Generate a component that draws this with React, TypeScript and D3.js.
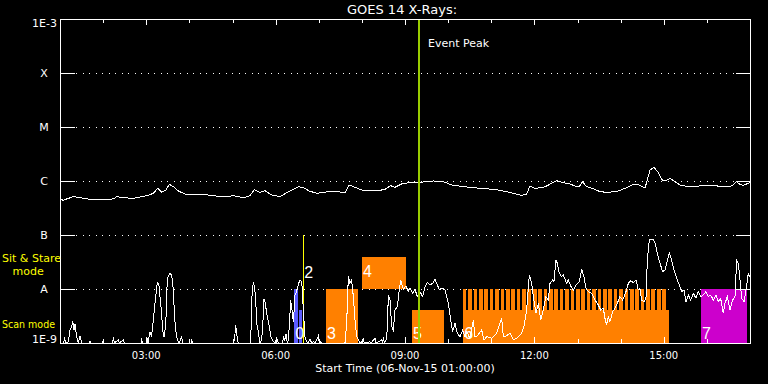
import React from 'react';
import * as d3 from 'd3';

const W = 768;
const H = 384;
const PLOT = { left: 60, right: 750, top: 19, bottom: 343 };

// ---------- axis data ----------
const levelLabels = ['1E-9', 'A', 'B', 'C', 'M', 'X', '1E-3'];
const levelExps = [-9, -8, -7, -6, -5, -4, -3];
const hourTicks = [1, 2, 3, 4, 5, 6, 7, 8, 9, 10, 11, 12, 13, 14, 15, 16, 17];
const labeledHours = [3, 6, 9, 12, 15];
const titleText = 'GOES 14 X-Rays:';
const startLabel = 'Start Time (06-Nov-15 01:00:00)';
const modeLabels = ['Sit & Stare', 'mode', 'Scan mode'];
const eventPeakHour = 9.325;
const eventPeakLabel = 'Event Peak';
const obs2Hour = 6.642;

// ---------- GOES flux (hour, log10 W/m^2) ----------
const goesLog: [number, number][] = [
  [1.0, -6.333], [1.077, -6.358], [1.155, -6.333], [1.309, -6.29], [1.464, -6.309], [1.618, -6.333],
  [1.928, -6.34], [2.237, -6.333], [2.314, -6.29], [2.469, -6.309], [2.7, -6.321], [2.855, -6.296],
  [3.01, -6.272], [3.164, -6.229], [3.265, -6.136], [3.357, -6.21], [3.458, -6.167], [3.535, -6.062],
  [3.628, -6.105], [3.744, -6.185], [3.899, -6.241], [4.092, -6.259], [4.324, -6.247], [4.556, -6.272],
  [4.787, -6.296], [5.019, -6.272], [5.251, -6.309], [5.406, -6.272], [5.506, -6.161], [5.638, -6.21],
  [5.754, -6.179], [5.908, -6.259], [6.101, -6.29], [6.295, -6.198], [6.527, -6.105], [6.643, -6.124],
  [6.782, -6.185], [6.951, -6.228], [7.338, -6.185], [7.415, -6.197], [7.608, -6.216], [7.709, -6.074],
  [7.84, -6.117], [8.034, -6.179], [8.343, -6.185], [8.536, -6.154], [8.667, -6.086], [8.768, -6.117],
  [8.923, -6.055], [9.077, -6.031], [9.309, -6.031], [9.425, -6.018], [9.657, -6.0], [9.889, -6.012],
  [10.082, -6.074], [10.352, -6.105], [10.739, -6.136], [11.048, -6.154], [11.241, -6.179], [11.512, -6.228],
  [11.705, -6.265], [11.821, -6.24], [11.898, -6.092], [12.014, -6.136], [12.207, -6.117], [12.285, -6.092],
  [12.401, -6.043], [12.516, -5.994], [12.671, -6.031], [12.826, -6.055], [12.942, -6.092], [13.042, -6.105],
  [13.112, -6.012], [13.212, -6.105], [13.367, -6.142], [13.521, -6.197], [13.676, -6.21], [13.908, -6.197],
  [14.101, -6.136], [14.256, -6.074], [14.41, -6.068], [14.565, -6.13], [14.619, -5.981], [14.681, -5.796],
  [14.773, -5.747], [14.874, -5.846], [14.974, -5.994], [15.052, -5.994], [15.144, -5.951], [15.26, -6.012],
  [15.376, -6.074], [15.57, -6.105], [15.84, -6.092], [16.149, -6.08], [16.343, -6.105], [16.575, -6.092],
  [16.69, -6.012], [16.752, -6.055], [16.845, -6.08], [16.961, -6.043], [17.0, -6.02],
];

// ---------- lower curve (hour, relative intensity 0..1) ----------
const lowerCurve: [number, number][] = [
  [1.0, 0], [1.077, 0], [1.108, 0.043], [1.139, 0], [1.193, 0.012], [1.232, 0.12], [1.271, 0.151],
  [1.294, 0.207], [1.325, 0.12], [1.348, 0.176], [1.386, 0.059], [1.425, 0], [1.464, 0.065], [1.502, 0],
  [1.68, 0], [1.696, 0.019], [1.711, 0], [1.989, 0], [2.005, 0.034], [2.02, 0], [2.221, 0], [2.237, 0.052],
  [2.26, 0], [2.353, 0.028], [2.376, 0], [2.469, 0.028], [2.492, 0], [2.878, 0], [2.894, 0.028], [2.917, 0],
  [2.994, 0], [3.01, 0.059], [3.041, 0], [3.087, 0.105], [3.118, 0.059], [3.149, 0.151], [3.18, 0.275],
  [3.203, 0.367], [3.242, 0.506], [3.257, 0.568], [3.288, 0.537], [3.303, 0.522], [3.319, 0.429],
  [3.342, 0.336], [3.365, 0.213], [3.381, 0.12], [3.412, 0.059], [3.435, 0.12], [3.458, 0.244],
  [3.473, 0.429], [3.489, 0.599], [3.52, 0.62], [3.551, 0.645], [3.582, 0.63], [3.613, 0.568],
  [3.636, 0.429], [3.651, 0.275], [3.682, 0.12], [3.705, 0.059], [3.744, 0.012], [3.767, 0],
  [3.821, 0.059], [3.844, 0], [4.038, 0], [4.053, 0.034], [4.076, 0], [5.019, 0], [5.05, 0.043],
  [5.073, 0.167], [5.097, 0.09], [5.112, 0.043], [5.135, 0], [5.406, 0], [5.429, 0.12], [5.452, 0.429],
  [5.483, 0.568], [5.506, 0.522], [5.522, 0.475], [5.545, 0.336], [5.56, 0.182], [5.591, 0.12],
  [5.614, 0.059], [5.638, 0], [5.676, 0.028], [5.7, 0.151], [5.73, 0.404], [5.761, 0.367], [5.792, 0.275],
  [5.823, 0.213], [5.854, 0.151], [5.893, 0.059], [5.947, 0.012], [5.986, 0], [6.024, 0.043], [6.063, 0],
  [6.163, 0], [6.179, 0.059], [6.21, 0.028], [6.241, 0.083], [6.272, 0], [6.295, 0.028], [6.326, 0.213],
  [6.349, 0.398], [6.38, 0.306], [6.411, 0.198], [6.434, 0.336], [6.449, 0.444], [6.473, 0.46],
  [6.503, 0.506], [6.534, 0.552], [6.565, 0.583], [6.596, 0.568], [6.612, 0.528], [6.627, 0.429],
  [6.643, 0.306], [6.666, 0.151], [6.681, 0.059], [6.72, 0.012], [6.751, 0], [6.782, 0.028],
  [6.797, 0.034], [6.836, 0], [6.874, 0.012], [6.913, 0], [6.99, 0.065], [7.013, 0], [7.029, 0.012],
  [7.067, 0], [7.608, 0], [7.647, 0.182], [7.67, 0.429], [7.686, 0.62], [7.724, 0.552], [7.763, 0.583],
  [7.802, 0.429], [7.84, 0.213], [7.879, 0.059], [7.941, 0.012], [7.972, 0], [8.034, 0.034], [8.057, 0],
  [8.188, 0.012], [8.211, 0], [8.304, 0.043], [8.327, 0], [8.459, 0.028], [8.482, 0], [8.497, 0.052],
  [8.521, 0], [8.559, 0.028], [8.59, 0.12], [8.613, 0.444], [8.652, 0.398], [8.691, 0.151], [8.729, 0.12],
  [8.768, 0.306], [8.822, 0.336], [8.868, 0.491], [8.899, 0.583], [8.961, 0.497], [9.023, 0.528],
  [9.077, 0.475], [9.116, 0.506], [9.178, 0.46], [9.232, 0.497], [9.286, 0.429], [9.348, 0.475],
  [9.409, 0.429], [9.464, 0.522], [9.518, 0.559], [9.579, 0.537], [9.641, 0.552], [9.695, 0.59],
  [9.734, 0.552], [9.796, 0.497], [9.873, 0.506], [9.927, 0.491], [10.005, 0.367], [10.059, 0.213],
  [10.105, 0.105], [10.159, 0.182], [10.213, 0.09], [10.275, 0.059], [10.337, 0.12], [10.391, 0.059],
  [10.43, 0.105], [10.507, 0.043], [10.584, 0.213], [10.623, 0.059], [10.662, 0.059], [10.778, 0.12],
  [10.832, 0.028], [10.893, 0.059], [11.009, 0.043], [11.125, 0.09], [11.241, 0.228], [11.28, 0.059],
  [11.319, 0.059], [11.435, 0.09], [11.512, 0.028], [11.589, 0.043], [11.705, 0.09], [11.759, 0.151],
  [11.821, 0.306], [11.883, 0.63], [11.937, 0.552], [11.976, 0.429], [12.037, 0.275], [12.092, 0.367],
  [12.146, 0.213], [12.207, 0.306], [12.269, 0.429], [12.323, 0.398], [12.362, 0.552], [12.424, 0.583],
  [12.455, 0.568], [12.501, 0.769], [12.532, 0.738], [12.578, 0.645], [12.632, 0.614], [12.671, 0.63],
  [12.71, 0.59], [12.748, 0.552], [12.787, 0.583], [12.841, 0.528], [12.903, 0.491], [12.965, 0.537],
  [13.042, 0.568], [13.096, 0.682], [13.15, 0.614], [13.197, 0.506], [13.251, 0.475], [13.328, 0.46],
  [13.382, 0.414], [13.429, 0.383], [13.483, 0.352], [13.537, 0.306], [13.599, 0.321], [13.637, 0.228],
  [13.676, 0.167], [13.715, 0.244], [13.753, 0.198], [13.815, 0.29], [13.869, 0.321], [13.923, 0.367],
  [13.985, 0.429], [14.047, 0.398], [14.124, 0.475], [14.178, 0.552], [14.232, 0.577], [14.294, 0.559],
  [14.356, 0.583], [14.41, 0.491], [14.449, 0.506], [14.487, 0.398], [14.542, 0.383], [14.588, 0.414],
  [14.619, 0.769], [14.665, 0.954], [14.758, 0.96], [14.797, 0.929], [14.851, 0.83], [14.913, 0.738],
  [14.974, 0.66], [15.029, 0.676], [15.067, 0.738], [15.129, 0.83], [15.183, 0.769], [15.237, 0.676],
  [15.299, 0.599], [15.361, 0.537], [15.415, 0.475], [15.469, 0.491], [15.516, 0.383], [15.57, 0.444],
  [15.624, 0.398], [15.686, 0.46], [15.747, 0.414], [15.801, 0.475], [15.856, 0.429], [15.917, 0.444],
  [15.979, 0.475], [16.033, 0.429], [16.088, 0.444], [16.149, 0.398], [16.211, 0.444], [16.265, 0.383],
  [16.319, 0.414], [16.381, 0.275], [16.42, 0.367], [16.474, 0.429], [16.536, 0.306], [16.598, 0.398],
  [16.652, 0.429], [16.69, 0.769], [16.729, 0.738], [16.768, 0.583], [16.806, 0.414], [16.861, 0.383],
  [16.907, 0.491], [16.961, 0.645], [17.0, 0.614],
];

// ---------- observation bars ----------
// band: [low, high] in relative intensity units of the lower panel
const bandScan: [number, number] = [0, 0.31];
const bandFull: [number, number] = [0, 0.5];
const bandSit: [number, number] = [0.5, 0.8];
const bandStripe: [number, number] = [0.31, 0.5];

type Obs = { label: string; t0: number; t1: number; band: [number, number]; kind: string };
const observations: Obs[] = [
  { label: '0', t0: 6.433, t1: 6.511, band: bandFull, kind: 'blue' },
  { label: '', t0: 6.542, t1: 6.619, band: bandScan, kind: 'blue' },
  { label: '3', t0: 7.168, t1: 7.903, band: bandFull, kind: 'orange' },
  { label: '4', t0: 8.003, t1: 9.016, band: bandSit, kind: 'orange' },
  { label: '5', t0: 9.162, t1: 9.904, band: bandScan, kind: 'orange' },
  { label: '6', t0: 10.352, t1: 15.122, band: bandScan, kind: 'orange' },
  { label: '7', t0: 15.864, t1: 16.93, band: bandFull, kind: 'magenta' },
];
const stripeStarts = [
  10.34, 10.465, 10.59, 10.715, 10.84, 10.965, 11.09, 11.215, 11.34, 11.465, 11.59, 11.715, 11.84,
  11.965, 12.09, 12.215, 12.34, 12.465, 12.59, 12.715, 12.84, 12.965, 13.09, 13.215, 13.34, 13.465,
  13.59, 13.715, 13.84, 13.965, 14.09, 14.215, 14.34, 14.465, 14.59, 14.715, 14.84, 14.965,
];
const stripeDuration = 0.085;

const COLORS: Record<string, string> = {
  blue: '#5c5cff',
  orange: '#ff8000',
  magenta: '#cc00cc',
  peak: '#99cc00',
  obs2: '#ffff00',
  mode: '#ffff00',
};

const FONT = 'DejaVu Sans, sans-serif';

export default function App() {
  const x = d3.scaleLinear().domain([1, 17]).range([PLOT.left, PLOT.right]);
  const yLog = d3.scaleLinear().domain([-9, -3]).range([PLOT.bottom, PLOT.top]);
  const yLow = d3.scaleLinear().domain([0, 1]).range([PLOT.bottom, yLog(-7)]);

  const goesPath = d3
    .line<[number, number]>()
    .x((d) => x(d[0]))
    .y((d) => yLog(d[1]))(goesLog) as string;
  const lowerPath = d3
    .line<[number, number]>()
    .x((d) => x(d[0]))
    .y((d) => yLow(d[1]))(lowerCurve) as string;

  const fmtHour = (h: number) => `${String(h).padStart(2, '0')}:00`;

  return (
    <svg
      width={W}
      height={H}
      style={{ position: 'absolute', left: 0, top: 0, display: 'block' }}
      fontFamily={FONT}
    >
      <rect x={0} y={0} width={W} height={H} fill="#000" />

      {/* dotted grid */}
      {levelExps.slice(1, -1).map((e) => (
        <line
          key={'g' + e}
          x1={PLOT.left + 16}
          x2={PLOT.right - 15}
          y1={Math.round(yLog(e)) + 0.5}
          y2={Math.round(yLog(e)) + 0.5}
          stroke="#fff"
          strokeWidth={1}
          strokeDasharray="1 5.5"
          shapeRendering="crispEdges"
        />
      ))}

      {/* observation bars */}
      {observations.map((o, i) => (
        <rect
          key={'o' + i}
          x={x(o.t0)}
          width={x(o.t1) - x(o.t0)}
          y={yLow(o.band[1])}
          height={yLow(o.band[0]) - yLow(o.band[1])}
          fill={COLORS[o.kind]}
          shapeRendering="crispEdges"
        />
      ))}
      {stripeStarts.map((s, i) => (
        <rect
          key={'s' + i}
          x={x(s)}
          width={x(s + stripeDuration) - x(s)}
          y={yLow(bandStripe[1])}
          height={yLow(bandStripe[0]) - yLow(bandStripe[1])}
          fill={COLORS.orange}
          shapeRendering="crispEdges"
        />
      ))}

      {/* observation 2 marker */}
      <line
        x1={Math.round(x(obs2Hour)) + 0.5}
        x2={Math.round(x(obs2Hour)) + 0.5}
        y1={yLog(-7)}
        y2={PLOT.bottom}
        stroke={COLORS.obs2}
        strokeWidth={1}
        shapeRendering="crispEdges"
      />

      {/* observation labels */}
      {observations
        .filter((o) => o.label)
        .map((o, i) => (
          <text
            key={'l' + i}
            x={x(o.t0) + 1}
            y={o.band[0] > 0 ? yLow(o.band[0]) - 12 : PLOT.bottom - 4}
            fill="#fff"
            fontSize={16}
            fontFamily="Liberation Sans, sans-serif"
          >
            {o.label}
          </text>
        ))}
      <text x={x(obs2Hour) + 1} y={yLow(0.5) - 11} fill="#fff" fontSize={16} fontFamily="Liberation Sans, sans-serif">
        2
      </text>

      {/* curves */}
      <path d={lowerPath} fill="none" stroke="#fff" strokeWidth={1} shapeRendering="crispEdges" />
      <path d={goesPath} fill="none" stroke="#fff" strokeWidth={1} shapeRendering="crispEdges" />

      {/* event peak */}
      <line
        x1={x(eventPeakHour)}
        x2={x(eventPeakHour)}
        y1={PLOT.top}
        y2={PLOT.bottom}
        stroke={COLORS.peak}
        strokeWidth={2}
        shapeRendering="crispEdges"
      />
      <text x={x(eventPeakHour) + 9} y={47} fill="#fff" fontSize={11}>
        {eventPeakLabel}
      </text>

      {/* frame */}
      <rect
        x={PLOT.left + 0.5}
        y={PLOT.top + 0.5}
        width={PLOT.right - PLOT.left}
        height={PLOT.bottom - PLOT.top}
        fill="none"
        stroke="#fff"
        strokeWidth={1}
        shapeRendering="crispEdges"
      />

      {/* y ticks */}
      {levelExps.map((e) => {
        const yy = Math.round(yLog(e)) + 0.5;
        return (
          <g key={'yt' + e}>
            <line x1={PLOT.left} x2={PLOT.left + 15} y1={yy} y2={yy} stroke="#fff" shapeRendering="crispEdges" />
            <line x1={PLOT.right - 14} x2={PLOT.right} y1={yy} y2={yy} stroke="#fff" shapeRendering="crispEdges" />
          </g>
        );
      })}

      {/* x ticks */}
      {hourTicks.map((h) => {
        const xx = Math.round(x(h)) + 0.5;
        const len = labeledHours.includes(h) ? 6 : 4;
        return (
          <g key={'xt' + h}>
            <line x1={xx} x2={xx} y1={PLOT.top} y2={PLOT.top + len} stroke="#fff" shapeRendering="crispEdges" />
            <line x1={xx} x2={xx} y1={PLOT.bottom} y2={PLOT.bottom - len} stroke="#fff" shapeRendering="crispEdges" />
          </g>
        );
      })}

      {/* y labels */}
      {levelExps.map((e, i) => {
        const lab = levelLabels[i];
        const isEnd = i === 0 || i === levelExps.length - 1;
        const yy = yLog(e);
        if (isEnd) {
          return (
            <text
              key={'yl' + e}
              x={57}
              y={i === 0 ? yy : yy + 8}
              textAnchor="end"
              fill="#fff"
              fontSize={11}
            >
              {lab}
            </text>
          );
        }
        return (
          <text key={'yl' + e} x={44} y={yy + 4} textAnchor="middle" fill="#fff" fontSize={11}>
            {lab}
          </text>
        );
      })}

      {/* x labels */}
      {labeledHours.map((h) => (
        <text key={'xl' + h} x={x(h)} y={359} textAnchor="middle" fill="#fff" fontSize={10}>
          {fmtHour(h)}
        </text>
      ))}
      <text x={405} y={372} textAnchor="middle" fill="#fff" fontSize={11}>
        {startLabel}
      </text>

      {/* title */}
      <text x={402} y={14} textAnchor="middle" fill="#fff" fontSize={13}>
        {titleText}
      </text>

      {/* mode labels */}
      <text x={2} y={262} fill={COLORS.mode} fontSize={11}>
        {modeLabels[0]}
      </text>
      <text x={12.5} y={275} fill={COLORS.mode} fontSize={11}>
        {modeLabels[1]}
      </text>
      <text x={2} y={328} fill={COLORS.mode} fontSize={11} textLength={53} lengthAdjust="spacingAndGlyphs">
        {modeLabels[2]}
      </text>
    </svg>
  );
}
